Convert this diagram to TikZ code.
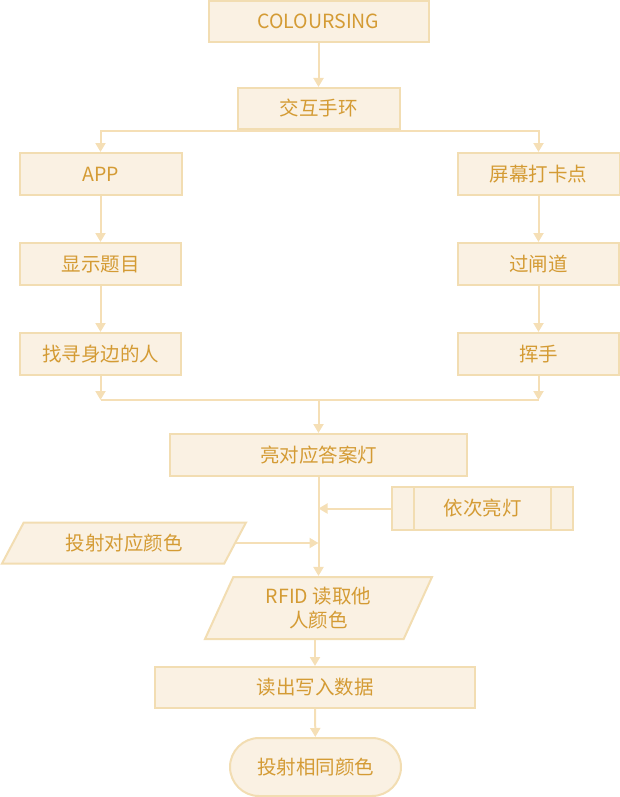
\documentclass[tikz,border=0pt]{standalone}
\usepackage{fontspec}
\setmainfont{Noto Sans CJK SC}
\usetikzlibrary{arrows.meta,shapes.geometric,calc}
\definecolor{boxfill}{RGB}{250,241,227}
\definecolor{boxline}{RGB}{242,221,178}
\definecolor{textgold}{RGB}{212,155,52}
\definecolor{flowline}{RGB}{245,223,182}

\tikzset{
  box/.style={draw=boxline, fill=boxfill, line width=2pt, text=textgold,
    font=\fontsize{19.5}{24}\selectfont, minimum height=42pt, inner sep=0pt},
  slanted/.style={box, trapezium, trapezium stretches body=true,
    trapezium left angle=#1, trapezium right angle=180-#1},
  flow/.style={draw=flowline, line width=2pt, -{Triangle[length=9pt,width=10pt]}},
  plain/.style={draw=flowline, line width=2pt}
}

\begin{document}
\begin{tikzpicture}[x=1pt, y=-1pt]
    \useasboundingbox (0,0) rectangle (620,797);

    % Top of the flow
    \node[box, minimum width=220pt, minimum height=41pt] (title) at (318.5,21.5) {COLOURSING};
    \node[box, minimum width=162pt, minimum height=41pt] (band) at (318.5,108.5) {交互手环};

    % Left branch
    \node[box, minimum width=162pt] (app) at (100.5,174) {APP};
    \node[box, minimum width=161pt] (question) at (100.5,264) {显示题目};
    \node[box, minimum width=161pt] (findppl) at (100.5,354) {找寻身边的人};

    % Right branch
    \node[box, minimum width=162pt] (screen) at (538.5,174) {屏幕打卡点};
    \node[box, minimum width=161pt] (gate) at (538.5,264) {过闸道};
    \node[box, minimum width=161pt] (wave) at (538.5,354) {挥手};

    % Merged part
    \node[box, minimum width=297pt] (answer) at (318.5,455) {亮对应答案灯};
    \node[box, minimum width=181pt, minimum height=43pt] (seq) at (482.5,508.5) {依次亮灯};
    \draw[boxline, line width=2pt] ($(seq.north west)+(23,0)$) -- ($(seq.south west)+(23,0)$);
    \draw[boxline, line width=2pt] ($(seq.north east)+(-23,0)$) -- ($(seq.south east)+(-23,0)$);
    \node[slanted=40, minimum width=244pt, minimum height=41pt] (proj) at (124,543) {投射对应颜色};
    \node[slanted=56, minimum width=227pt, minimum height=62pt, align=center] (rfid) at (318.5,608) {RFID 读取他\\人颜色};
    \node[box, minimum width=320pt, minimum height=41pt] (rw) at (315,687.5) {读出写入数据};
    \node[box, minimum width=171pt, minimum height=58pt, rounded corners=29pt] (same) at (315.5,767) {投射相同颜色};

    % Split and join points
    \coordinate (split) at (318.5,131);
    \coordinate (join) at (318.5,400);

    % Connectors
    \draw[flow] (title) -- (band);
    \draw[plain] (band.south) -- (split);
    \draw[flow] (split) -| (app);
    \draw[flow] (split) -| (screen);
    \draw[flow] (app) -- (question);
    \draw[flow] (question) -- (findppl);
    \draw[flow] (screen) -- (gate);
    \draw[flow] (gate) -- (wave);
    \draw[flow] (findppl) -- (findppl |- join);
    \draw[flow] (wave) -- (wave |- join);
    \draw[plain] (findppl |- join) -- (wave |- join);
    \draw[flow] (join) -- (answer);
    \draw[flow] (answer) -- (rfid);
    \draw[flow] (seq.west) -- (seq.west -| answer);
    \draw[flow] (proj.east) -- (proj.east -| answer);
    \draw[flow] (rfid.south -| rw) -- (rw);
    \draw[flow] (rw) -- (same);
\end{tikzpicture}
\end{document}
